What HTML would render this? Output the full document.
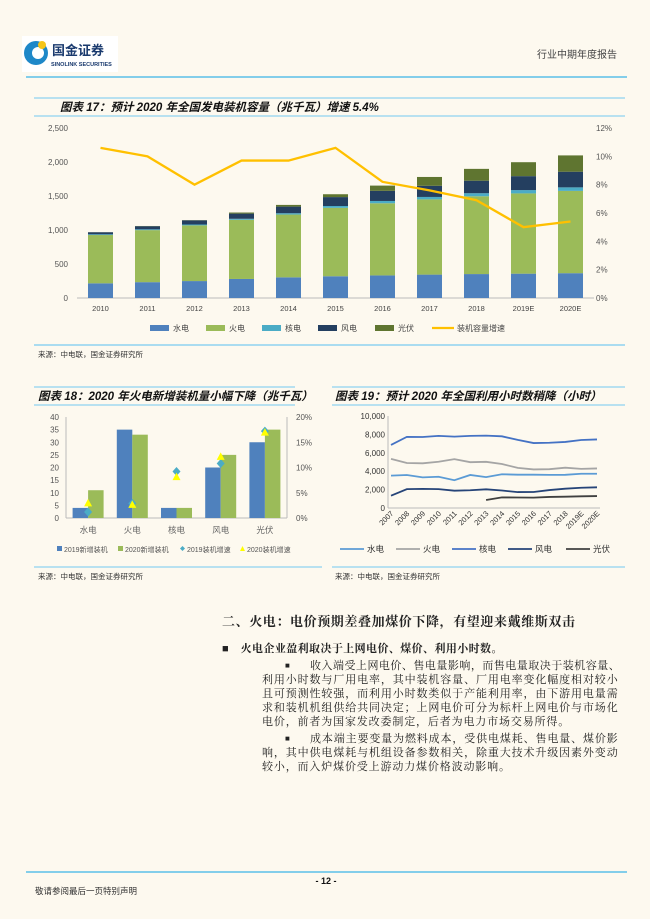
<!DOCTYPE html>
<html><head><meta charset="utf-8">
<style>
html,body{margin:0;padding:0;background:#fdf9ef;}
body{width:650px;height:919px;position:relative;overflow:hidden;font-family:"Liberation Sans","Noto Sans CJK SC",sans-serif;}
svg text{font-family:"Liberation Sans","Noto Sans CJK SC",sans-serif;}
.t{position:absolute;white-space:nowrap;color:#222;font-family:"Liberation Serif","Noto Serif CJK SC",serif;}
.l{position:absolute;white-space:nowrap;color:#222;font-family:"Liberation Serif","Noto Serif CJK SC",serif;font-size:11px;line-height:14px;letter-spacing:0.3px;overflow:hidden;}
.j{text-align:justify;text-align-last:justify;text-justify:inter-character;}
</style></head><body>
<svg id="s" width="650" height="919" style="position:absolute;left:0;top:0">
<rect x="22" y="36" width="96" height="36" fill="#fff"/>
<circle cx="36" cy="53" r="12" fill="#1e88c8"/>
<circle cx="38" cy="53" r="6" fill="#fff"/>
<circle cx="42" cy="45" r="4" fill="#f5c518"/>
<text x="52" y="55" font-size="13" font-weight="bold" fill="#1a3a6e" font-family="Noto Sans CJK SC">国金证券</text>
<text x="51" y="66" font-size="5.5" font-weight="bold" fill="#1a3a6e">SINOLINK SECURITIES</text>
<text x="617" y="58" font-size="10" fill="#444" text-anchor="end" font-family="Noto Serif CJK SC">行业中期年度报告</text>
<line x1="26" y1="77" x2="627" y2="77" stroke="#5bc0e8" stroke-width="1.5"/>
<line x1="34" y1="98" x2="625" y2="98" stroke="#8fd3f0" stroke-width="1.2"/>
<line x1="34" y1="116" x2="625" y2="116" stroke="#8fd3f0" stroke-width="1.2"/>
<text x="60" y="111" font-size="11.5" font-weight="bold" font-style="italic" fill="#111">图表 17：预计 2020 年全国发电装机容量（兆千瓦）增速 5.4%</text>
<line x1="34" y1="345" x2="625" y2="345" stroke="#8fd3f0" stroke-width="1.5"/>
<text x="38" y="357" font-size="7.5" fill="#333" font-family="Noto Serif CJK SC">来源：中电联，国金证券研究所</text>
<g id="c17"></g>
<line x1="34" y1="387" x2="295" y2="387" stroke="#8fd3f0" stroke-width="1.2"/>
<line x1="34" y1="405" x2="295" y2="405" stroke="#8fd3f0" stroke-width="1.2"/>
<text x="38" y="400" font-size="11.5" font-weight="bold" font-style="italic" fill="#111">图表 18：2020 年火电新增装机量小幅下降（兆千瓦）</text>
<line x1="34" y1="567" x2="322" y2="567" stroke="#8fd3f0" stroke-width="1.2"/>
<text x="38" y="579" font-size="7.5" fill="#333" font-family="Noto Serif CJK SC">来源：中电联，国金证券研究所</text>
<g id="c18"></g>
<line x1="332" y1="387" x2="625" y2="387" stroke="#8fd3f0" stroke-width="1.2"/>
<line x1="332" y1="405" x2="625" y2="405" stroke="#8fd3f0" stroke-width="1.2"/>
<text x="335" y="400" font-size="11.5" font-weight="bold" font-style="italic" fill="#111">图表 19：预计 2020 年全国利用小时数稍降（小时）</text>
<line x1="332" y1="567" x2="625" y2="567" stroke="#8fd3f0" stroke-width="1.2"/>
<text x="335" y="579" font-size="7.5" fill="#333" font-family="Noto Serif CJK SC">来源：中电联，国金证券研究所</text>
<g id="c19"></g>
<line x1="26" y1="872" x2="627" y2="872" stroke="#5bc0e8" stroke-width="1.5"/>
<text x="326" y="884" font-size="9" font-weight="bold" text-anchor="middle" fill="#111">- 12 -</text>
<text x="35" y="894" font-size="8.5" fill="#333" font-family="Noto Serif CJK SC">敬请参阅最后一页特别声明</text>
</svg>

<div class="t" style="left:222px;top:611px;font-size:13px;font-weight:bold;letter-spacing:0.6px;">二、火电：电价预期差叠加煤价下降，有望迎来戴维斯双击</div>
<div class="t" style="left:222px;top:640px;font-size:11px;font-weight:bold;">■<span style="margin-left:12px;letter-spacing:0.4px">火电企业盈利取决于上网电价、煤价、利用小时数。</span></div>

<div class="l" style="left:285px;top:659px;font-size:8px;">■</div>
<div class="l j" style="left:310px;top:659px;width:310px;">收入端受上网电价、售电量影响，而售电量取决于装机容量、</div>
<div class="l j" style="left:262px;top:673px;width:356px;">利用小时数与厂用电率，其中装机容量、厂用电率变化幅度相对较小</div>
<div class="l j" style="left:262px;top:687px;width:356px;">且可预测性较强，而利用小时数类似于产能利用率，由下游用电量需</div>
<div class="l j" style="left:262px;top:701px;width:356px;">求和装机机组供给共同决定；上网电价可分为标杆上网电价与市场化</div>
<div class="l" style="left:262px;top:715px;letter-spacing:0.85px;">电价，前者为国家发改委制定，后者为电力市场交易所得。</div>

<div class="l" style="left:285px;top:732px;font-size:8px;">■</div>
<div class="l j" style="left:310px;top:732px;width:308px;">成本端主要变量为燃料成本，受供电煤耗、售电量、煤价影</div>
<div class="l j" style="left:262px;top:746px;width:356px;">响，其中供电煤耗与机组设备参数相关，除重大技术升级因素外变动</div>
<div class="l" style="left:262px;top:760px;letter-spacing:0.85px;">较小，而入炉煤价受上游动力煤价格波动影响。</div>

<script>
var NS="http://www.w3.org/2000/svg";
function el(g,tag,a,txt){var e=document.createElementNS(NS,tag);for(var k in a)e.setAttribute(k,a[k]);if(txt!=null)e.textContent=txt;g.appendChild(e);return e;}
(function(){
var g=document.getElementById('c17');
var y0=298,H=170,x0=77,x1=594;
var yrs=['2010','2011','2012','2013','2014','2015','2016','2017','2018','2019E','2020E'];
var d=[[216,710,11,30,1],[233,765,12,46,3],[249,819,13,61,3],[280,870,15,76,16],[304,923,20,97,25],[320,1006,27,131,42],[332,1061,34,149,77],[344,1106,36,164,130],[352,1144,45,184,174],[358,1180,49,205,205],[365,1210,52,230,240]];
var gr=[10.6,10.0,8.0,9.7,9.7,10.6,8.2,7.6,6.9,5.0,5.4];
var col=['#4f81bd','#9bbb59','#4bacc6','#243f60','#5f7530'];
for(var i=0;i<=5;i++){var v=i*500;el(g,'text',{x:68,y:y0-v*H/2500+3,'font-size':8,'text-anchor':'end',fill:'#555'},v==0?'0':(v>=1000?(v/1000|0)+','+String(v%1000).padStart(3,'0'):v));}
for(var i=0;i<=6;i++){el(g,'text',{x:596,y:y0-i*2*H/12+3,'font-size':8,fill:'#555'},(i*2)+'%');}
el(g,'line',{x1:x0,y1:y0,x2:x1,y2:y0,stroke:'#bbb'});
var w=(x1-x0)/11,pts=[];
for(var i=0;i<11;i++){var cx=x0+w*(i+0.5),y=y0;
for(var j=0;j<5;j++){var h=d[i][j]*H/2500;el(g,'rect',{x:cx-12.5,y:y-h,width:25,height:h,fill:col[j]});y-=h;}
el(g,'text',{x:cx,y:y0+13,'font-size':7.5,'text-anchor':'middle',fill:'#444'},yrs[i]);
pts.push(cx+','+(y0-gr[i]*H/12));}
el(g,'polyline',{points:pts.join(' '),fill:'none',stroke:'#ffc000','stroke-width':2.3});
var lg=[['水电',150],['火电',206],['核电',262],['风电',318],['光伏',375]];
lg.forEach(function(l,k){el(g,'rect',{x:l[1],y:325,width:19,height:6,fill:col[k]});el(g,'text',{x:l[1]+23,y:331,'font-size':8,fill:'#444'},l[0]);});
el(g,'line',{x1:432,y1:328,x2:454,y2:328,stroke:'#ffc000','stroke-width':2.3});
el(g,'text',{x:457,y:331,'font-size':8,fill:'#444'},'装机容量增速');
})();
(function(){
var g=document.getElementById('c18');
var y0=518,H=101,x0=66,x1=287;
for(var i=0;i<=8;i++){el(g,'text',{x:59,y:y0-i*5*H/40+3,'font-size':8,'text-anchor':'end',fill:'#555'},i*5);}
for(var i=0;i<=4;i++){el(g,'text',{x:296,y:y0-i*5*H/20+3,'font-size':8,fill:'#555'},(i*5)+'%');}
el(g,'line',{x1:x0,y1:y0-H,x2:x0,y2:y0,stroke:'#bbb'});
el(g,'line',{x1:x1,y1:y0-H,x2:x1,y2:y0,stroke:'#bbb'});
el(g,'line',{x1:x0,y1:y0,x2:x1,y2:y0,stroke:'#bbb'});
var cats=['水电','火电','核电','风电','光伏'],a=[4,35,4,20,30],b=[11,33,4,25,35],ga=[1.2,2.9,9.2,10.8,17.2],gb=[3,2.7,8.2,12.2,17];
var w=(x1-x0)/5;
for(var i=0;i<5;i++){var cx=x0+w*(i+0.5);
el(g,'rect',{x:cx-15.5,y:y0-a[i]*H/40,width:15.5,height:a[i]*H/40,fill:'#4f81bd'});
el(g,'rect',{x:cx,y:y0-b[i]*H/40,width:15.5,height:b[i]*H/40,fill:'#9bbb59'});
var yy=y0-ga[i]*H/20;el(g,'polygon',{points:(cx-4)+','+yy+' '+cx+','+(yy-4.5)+' '+(cx+4)+','+yy+' '+cx+','+(yy+4.5),fill:'#4bacc6'});
var yt=y0-gb[i]*H/20;el(g,'polygon',{points:(cx-4)+','+(yt+3.5)+' '+cx+','+(yt-4)+' '+(cx+4)+','+(yt+3.5),fill:'#ffff00'});
el(g,'text',{x:cx,y:533,'font-size':8.5,'text-anchor':'middle',fill:'#666'},cats[i]);}
el(g,'rect',{x:57,y:546,width:5,height:5,fill:'#4f81bd'});el(g,'text',{x:64,y:552,'font-size':7,fill:'#555'},'2019新增装机');
el(g,'rect',{x:118,y:546,width:5,height:5,fill:'#9bbb59'});el(g,'text',{x:125,y:552,'font-size':7,fill:'#555'},'2020新增装机');
el(g,'polygon',{points:'180,548.5 182.5,546 185,548.5 182.5,551',fill:'#4bacc6'});el(g,'text',{x:187,y:552,'font-size':7,fill:'#555'},'2019装机增速');
el(g,'polygon',{points:'240,551 242.5,546 245,551',fill:'#ffff00'});el(g,'text',{x:247,y:552,'font-size':7,fill:'#555'},'2020装机增速');
})();
(function(){
var g=document.getElementById('c19');
var y0=508,H=92,x0=391,x1=597;
for(var i=0;i<=5;i++){var v=i*2000;el(g,'text',{x:385,y:y0-v*H/10000+3,'font-size':8,'text-anchor':'end',fill:'#333'},v==0?'0':(v>=10000?'10,000':(v/1000)+',000'));}
el(g,'line',{x1:388,y1:y0-H,x2:388,y2:y0,stroke:'#bbb'});
el(g,'line',{x1:388,y1:y0,x2:600,y2:y0,stroke:'#bbb'});
var yrs=['2007','2008','2009','2010','2011','2012','2013','2014','2015','2016','2017','2018','2019E','2020E'];
var dx=(x1-x0)/13;
yrs.forEach(function(y,i){var x=x0+dx*i+3;el(g,'text',{x:x,y:514,'font-size':7.5,'text-anchor':'end',fill:'#333',transform:'rotate(-45 '+x+' 514)'},y);});
var S=[['#5b9bd5',[3520,3590,3330,3400,3020,3590,3360,3670,3620,3620,3600,3610,3720,3720],0],
['#a5a5a5',[5340,4890,4860,5030,5310,4980,5020,4780,4360,4190,4220,4380,4250,4300],0],
['#4472c4',[6860,7730,7720,7840,7760,7840,7870,7790,7400,7060,7090,7180,7390,7450],0],
['#264478',[1340,2050,2080,2050,1880,1930,2030,1900,1730,1740,1950,2100,2200,2250],0],
['#404040',[870,1150,1140,1130,1200,1230,1270,1300],6]];
S.forEach(function(s){var p=s[1].map(function(v,i){return (x0+dx*(i+s[2]))+','+(y0-v*H/10000);});el(g,'polyline',{points:p.join(' '),fill:'none',stroke:s[0],'stroke-width':1.8});});
var lg=[['水电',340],['火电',396],['核电',452],['风电',508],['光伏',566]];
lg.forEach(function(l,k){el(g,'line',{x1:l[1],y1:549,x2:l[1]+24,y2:549,stroke:S[k][0],'stroke-width':1.8});el(g,'text',{x:l[1]+27,y:552,'font-size':8.5,fill:'#333'},l[0]);});
})();
</script>
</body></html>
